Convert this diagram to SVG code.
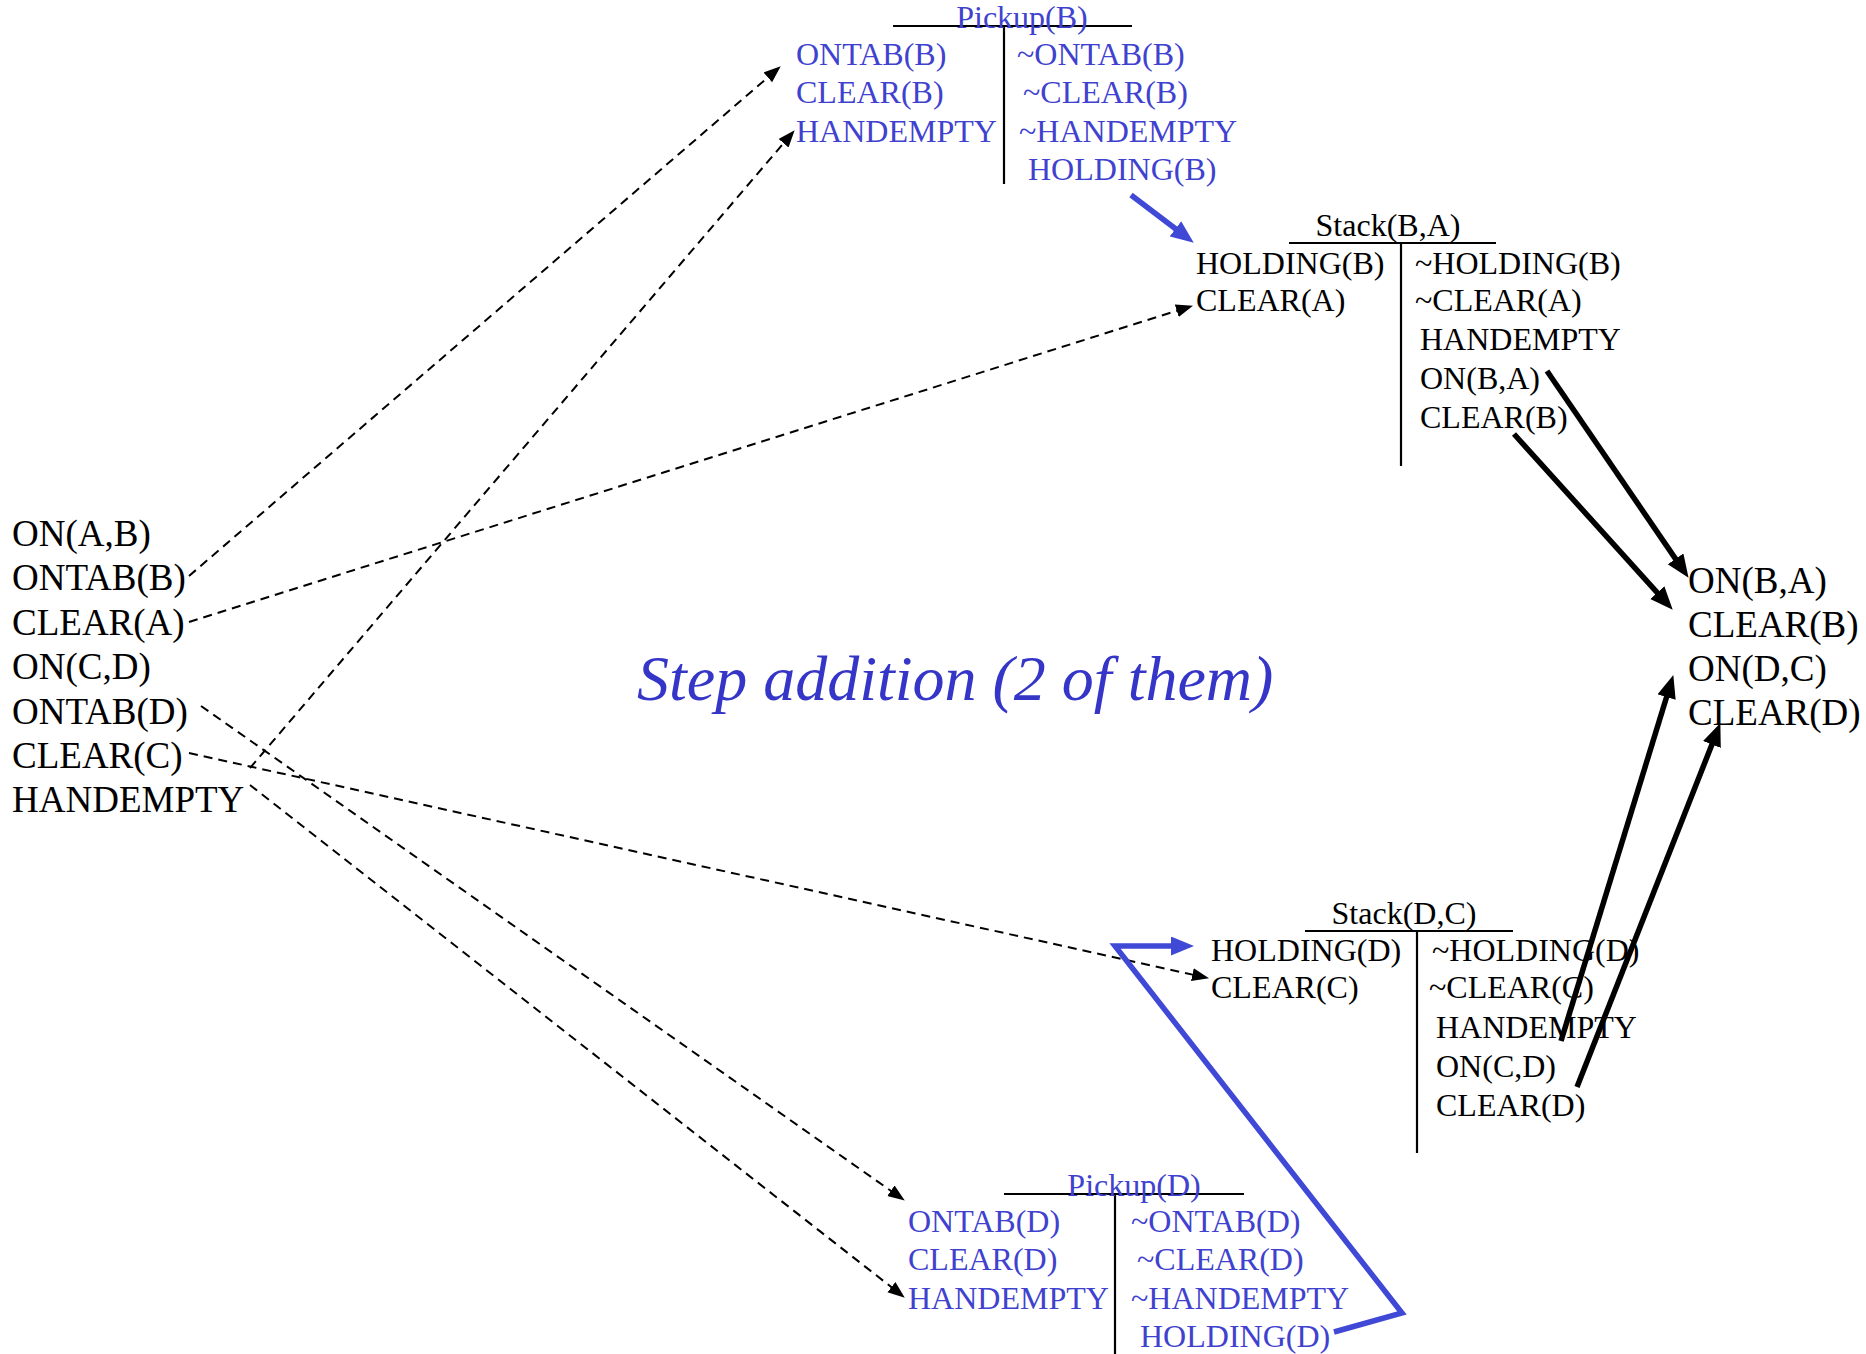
<svg xmlns="http://www.w3.org/2000/svg" width="1866" height="1354" viewBox="0 0 1866 1354">
  <style>
    text { font-family: "Liberation Serif", "Times New Roman", serif; fill: #000; }
    .big { font-size: 37px; }
    .blk { font-size: 32px; }
    .blue { fill: #3f42cf; }
    .title { font-size: 64px; font-style: italic; fill: #3535c8; }
    .bar { stroke: #000; stroke-width: 2.2; fill: none; }
    .dash { stroke: #000; stroke-width: 2; stroke-dasharray: 9 6; fill: none; marker-end: url(#headSmall); }
    .thick { stroke: #000; stroke-width: 5.5; fill: none; marker-end: url(#headBig); }
    .thickBlue { stroke: #4049d6; stroke-width: 5.5; fill: none; stroke-linejoin: miter; marker-end: url(#headBlue); }
  </style>
  <defs>
    <marker id="headSmall" markerUnits="userSpaceOnUse" markerWidth="18" markerHeight="14" refX="8" refY="6.5" orient="auto">
      <path d="M0,0 L17,6.5 L0,13 z" fill="#000"/>
    </marker>
    <marker id="headBig" markerUnits="userSpaceOnUse" markerWidth="24" markerHeight="20" refX="10" refY="9.5" orient="auto">
      <path d="M0,0 L23,9.5 L0,19 z" fill="#000"/>
    </marker>
    <marker id="headBlue" markerUnits="userSpaceOnUse" markerWidth="24" markerHeight="20" refX="10" refY="9.5" orient="auto">
      <path d="M0,0 L23,9.5 L0,19 z" fill="#4049d6"/>
    </marker>
  </defs>

  <rect width="1866" height="1354" fill="#fff"/>

  <!-- initial state -->
  <g id="initial-state" class="big">
    <text x="12" y="546">ON(A,B)</text>
    <text x="12" y="590.4">ONTAB(B)</text>
    <text x="12" y="634.8">CLEAR(A)</text>
    <text x="12" y="679.2">ON(C,D)</text>
    <text x="12" y="723.6">ONTAB(D)</text>
    <text x="12" y="768">CLEAR(C)</text>
    <text x="12" y="812.4">HANDEMPTY</text>
  </g>

  <!-- goal state -->
  <g id="goal-state" class="big">
    <text x="1688" y="593">ON(B,A)</text>
    <text x="1688" y="637">CLEAR(B)</text>
    <text x="1688" y="681">ON(D,C)</text>
    <text x="1688" y="725">CLEAR(D)</text>
  </g>

  <!-- step Pickup(B) -->
  <g id="pickup-b" class="blk">
    <line class="bar" x1="893" y1="26" x2="1132" y2="26"/>
    <line class="bar" x1="1004" y1="26" x2="1004" y2="184"/>
    <text class="blue" x="1022" y="28" text-anchor="middle">Pickup(B)</text>
    <text class="blue" x="796" y="65">ONTAB(B)</text>
    <text class="blue" x="796" y="103">CLEAR(B)</text>
    <text class="blue" x="796" y="142">HANDEMPTY</text>
    <text class="blue" x="1017" y="65">~ONTAB(B)</text>
    <text class="blue" x="1023" y="103">~CLEAR(B)</text>
    <text class="blue" x="1019" y="142">~HANDEMPTY</text>
    <text class="blue" x="1028" y="180">HOLDING(B)</text>
  </g>

  <!-- step Stack(B,A) -->
  <g id="stack-b-a" class="blk">
    <line class="bar" x1="1289" y1="243" x2="1496" y2="243"/>
    <line class="bar" x1="1401" y1="243" x2="1401" y2="466"/>
    <text x="1388" y="236" text-anchor="middle">Stack(B,A)</text>
    <text x="1196" y="274">HOLDING(B)</text>
    <text x="1196" y="311">CLEAR(A)</text>
    <text x="1415" y="274">~HOLDING(B)</text>
    <text x="1415" y="311">~CLEAR(A)</text>
    <text x="1420" y="350">HANDEMPTY</text>
    <text x="1420" y="389">ON(B,A)</text>
    <text x="1420" y="428">CLEAR(B)</text>
  </g>

  <!-- step Stack(D,C) -->
  <g id="stack-d-c" class="blk">
    <line class="bar" x1="1305" y1="931" x2="1513" y2="931"/>
    <line class="bar" x1="1417" y1="931" x2="1417" y2="1153"/>
    <text x="1404" y="924" text-anchor="middle">Stack(D,C)</text>
    <text x="1211" y="961">HOLDING(D)</text>
    <text x="1211" y="998">CLEAR(C)</text>
    <text x="1432" y="961">~HOLDING(D)</text>
    <text x="1429" y="998">~CLEAR(C)</text>
    <text x="1436" y="1038">HANDEMPTY</text>
    <text x="1436" y="1077">ON(C,D)</text>
    <text x="1436" y="1116">CLEAR(D)</text>
  </g>

  <!-- step Pickup(D) -->
  <g id="pickup-d" class="blk">
    <line class="bar" x1="1004" y1="1194" x2="1244" y2="1194"/>
    <line class="bar" x1="1115" y1="1194" x2="1115" y2="1354"/>
    <text class="blue" x="1134" y="1196" text-anchor="middle">Pickup(D)</text>
    <text class="blue" x="908" y="1232">ONTAB(D)</text>
    <text class="blue" x="908" y="1270">CLEAR(D)</text>
    <text class="blue" x="908" y="1309">HANDEMPTY</text>
    <text class="blue" x="1131" y="1232">~ONTAB(D)</text>
    <text class="blue" x="1137" y="1270">~CLEAR(D)</text>
    <text class="blue" x="1131" y="1309">~HANDEMPTY</text>
    <text class="blue" x="1140" y="1347">HOLDING(D)</text>
  </g>

  <!-- caption -->
  <g id="caption">
    <text class="title" x="637" y="700">Step addition (2 of them)</text>
  </g>

  <!-- connectors -->
  <g id="connectors">
    <!-- causal links from the initial state (dashed) -->
    <path class="dash" d="M189,576 L773.9,72.2"/>
    <path class="dash" d="M250,768 L788.8,137.1"/>
    <path class="dash" d="M189,622 L1184.4,308.4"/>
    <path class="dash" d="M201,706 L897.4,1195.4"/>
    <path class="dash" d="M250,785 L897.7,1292.1"/>
    <path class="dash" d="M189,753 L1200.2,976.3"/>
    <!-- links into the goal state -->
    <path class="thick" d="M1547,371 L1681.2,567.1"/>
    <path class="thick" d="M1514,434 L1664,600.1"/>
    <path class="thick" d="M1561,1041 L1669.5,687.5"/>
    <path class="thick" d="M1577,1087 L1715.6,735.2"/>
    <!-- links between added steps -->
    <path class="thickBlue" d="M1131,195 L1183.4,234.8"/>
    <path class="thickBlue" d="M1334,1332 L1402,1313 L1115,946 L1181,946"/>
  </g>
</svg>
